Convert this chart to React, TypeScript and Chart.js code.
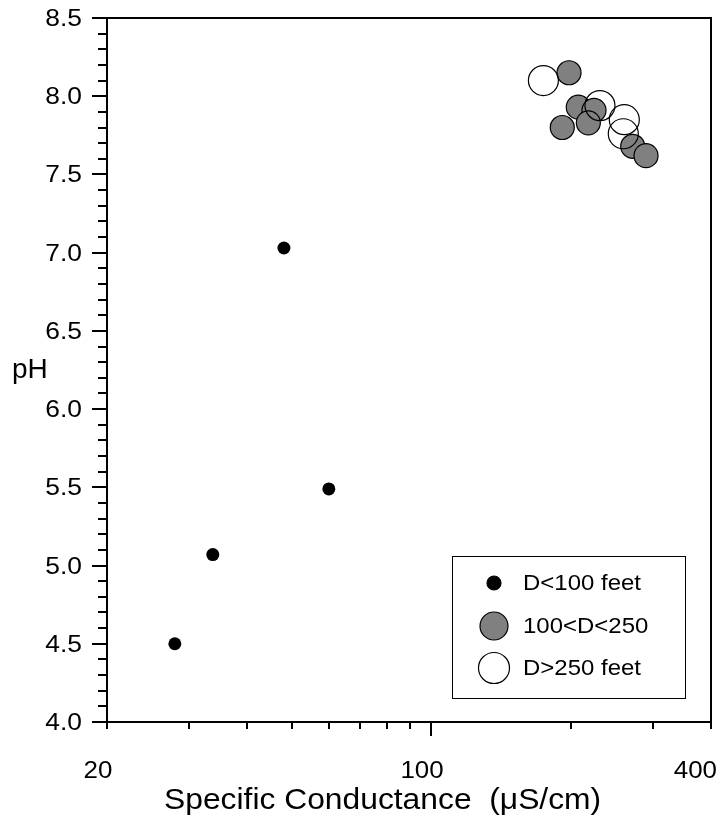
import React, { useEffect, useRef } from 'react';
import { Chart, registerables } from 'chart.js';

Chart.register(...registerables);

// ---- data ----
const seriesLabels = ['D<100 feet', '100<D<250', 'D>250 feet'];
const shallowSC = [28.0, 33.8, 48.1, 60.1];
const shallowPH = [4.5, 5.07, 7.03, 5.49];
const midSC = [197.8, 207.1, 223.9, 217.7, 191.3, 271.3, 289.8];
const midPH = [8.15, 7.93, 7.91, 7.83, 7.8, 7.68, 7.62];
const deepSC = [174.2, 230.6, 260.2, 258.9];
const deepPH = [8.1, 7.94, 7.85, 7.76];

const xMin = 20;
const xMax = 400;
const xTickValues = [20, 30, 40, 50, 60, 70, 80, 90, 100, 200, 300, 400];
const xTickLabels = ['20', '', '', '', '', '', '', '', '100', '', '', '400'];
const xMajorValues = [100];
const yMin = 4;
const yMax = 8.5;
const yMajorStep = 0.5;
const yMinorStep = 0.1;
const xTitle = 'Specific Conductance  (\u03bcS/cm)';
const yTitle = 'pH';

const FONT = '"Liberation Sans", Arial, Helvetica, sans-serif';

const toPoints = (xs: number[], ys: number[]) => xs.map((x, i) => ({ x, y: ys[i] }));

const seriesStyles = [
  { fill: '#000000', stroke: '#000000', radius: 6.5, legendRadius: 7 },
  { fill: '#808080', stroke: '#000000', radius: 12, legendRadius: 14 },
  { fill: 'rgba(255,255,255,0)', stroke: '#000000', radius: 15, legendRadius: 15.5 },
];

function stretchText(ctx: CanvasRenderingContext2D, text: string, x: number, y: number, sx: number) {
  ctx.save();
  ctx.translate(x, y);
  ctx.scale(sx, 1);
  ctx.fillText(text, 0, 0);
  ctx.restore();
}

const framePlugin = {
  id: 'frameAxes',
  beforeDatasetsDraw(chart: any) {
    const { ctx, chartArea: a, scales } = chart;
    const xs = scales.x;
    const ys = scales.y;
    ctx.save();
    ctx.strokeStyle = '#000';
    ctx.fillStyle = '#000';
    ctx.lineWidth = 2;
    ctx.strokeRect(a.left, a.top, a.right - a.left, a.bottom - a.top);

    // y ticks
    ctx.font = `24px ${FONT}`;
    ctx.textAlign = 'right';
    ctx.textBaseline = 'middle';
    const n = Math.round((yMax - yMin) / yMinorStep);
    for (let i = 0; i <= n; i++) {
      const v = yMin + i * yMinorStep;
      const r = v / yMajorStep;
      const major = Math.abs(r - Math.round(r)) < 1e-6;
      const py = Math.round(ys.getPixelForValue(v));
      ctx.beginPath();
      ctx.moveTo(a.left - (major ? 15 : 9), py);
      ctx.lineTo(a.left, py);
      ctx.stroke();
      if (major) stretchText(ctx, v.toFixed(1), a.left - 25, py + 1, 1.1);
    }

    // x ticks
    ctx.textAlign = 'center';
    ctx.textBaseline = 'top';
    const W = chart.width;
    xTickValues.forEach((v, i) => {
      const px = Math.round(xs.getPixelForValue(v));
      const len = xMajorValues.includes(v) ? 14 : 7;
      ctx.beginPath();
      ctx.moveTo(px, a.bottom);
      ctx.lineTo(px, a.bottom + len);
      ctx.stroke();
      const lab = xTickLabels[i];
      if (lab) {
        const w = ctx.measureText(lab).width * 1.08;
        const cx = Math.min(px - 9, W - w / 2 - 4);
        stretchText(ctx, lab, cx, a.bottom + 37, 1.08);
      }
    });

    // titles
    ctx.font = `30px ${FONT}`;
    ctx.textAlign = 'left';
    ctx.textBaseline = 'alphabetic';
    stretchText(ctx, xTitle, 164, a.bottom + 87, 1.06);
    ctx.font = `28px ${FONT}`;
    ctx.textAlign = 'left';
    ctx.textBaseline = 'middle';
    ctx.fillText(yTitle, 12, (a.top + a.bottom) / 2);
    ctx.restore();
  },
  afterDraw(chart: any) {
    const { ctx, chartArea: a } = chart;
    const left = a.right - 259;
    const top = a.bottom - 166;
    const right = a.right - 26;
    const bottom = a.bottom - 24;
    ctx.save();
    ctx.fillStyle = '#fff';
    ctx.fillRect(left, top, right - left, bottom - top);
    ctx.strokeStyle = '#000';
    ctx.lineWidth = 1;
    ctx.strokeRect(left + 0.5, top + 0.5, right - left, bottom - top);
    ctx.font = `22px ${FONT}`;
    ctx.textAlign = 'left';
    ctx.textBaseline = 'middle';
    const rows = [27, 70, 112];
    seriesLabels.forEach((lab, i) => {
      const st = seriesStyles[i];
      const cy = top + rows[i];
      ctx.beginPath();
      ctx.arc(left + 42, cy, st.legendRadius, 0, Math.PI * 2);
      ctx.fillStyle = st.fill;
      ctx.fill();
      ctx.lineWidth = 1.2;
      ctx.strokeStyle = st.stroke;
      ctx.stroke();
      ctx.fillStyle = '#000';
      stretchText(ctx, lab, left + 71, cy + 1, 1.09);
    });
    ctx.restore();
  },
};

export default function App() {
  const ref = useRef<HTMLCanvasElement | null>(null);
  useEffect(() => {
    if (!ref.current) return;
    const chart = new Chart(ref.current, {
      type: 'scatter',
      data: {
        datasets: [
          {
            label: seriesLabels[2],
            data: toPoints(deepSC, deepPH),
            backgroundColor: seriesStyles[2].fill,
            borderColor: seriesStyles[2].stroke,
            borderWidth: 1.2,
            pointRadius: seriesStyles[2].radius,
            pointHoverRadius: seriesStyles[2].radius,
            order: 0,
          },
          {
            label: seriesLabels[1],
            data: toPoints(midSC, midPH),
            backgroundColor: seriesStyles[1].fill,
            borderColor: seriesStyles[1].stroke,
            borderWidth: 1.2,
            pointRadius: seriesStyles[1].radius,
            pointHoverRadius: seriesStyles[1].radius,
            order: 1,
          },
          {
            label: seriesLabels[0],
            data: toPoints(shallowSC, shallowPH),
            backgroundColor: seriesStyles[0].fill,
            borderColor: seriesStyles[0].stroke,
            borderWidth: 0,
            pointRadius: seriesStyles[0].radius,
            pointHoverRadius: seriesStyles[0].radius,
            order: 2,
          },
        ],
      },
      plugins: [framePlugin],
      options: {
        animation: false,
        responsive: false,
        devicePixelRatio: 1,
        layout: { autoPadding: false, padding: { top: 18, right: 10, left: 0, bottom: 0 } },
        plugins: { legend: { display: false }, tooltip: { enabled: false } },
        events: [],
        scales: {
          x: {
            type: 'logarithmic',
            min: xMin,
            max: xMax,
            grid: { display: false },
            border: { display: false },
            ticks: { display: false },
            afterFit: (s: any) => { s.height = 96; },
          },
          y: {
            type: 'linear',
            min: yMin,
            max: yMax,
            grid: { display: false },
            border: { display: false },
            ticks: { display: false },
            afterFit: (s: any) => { s.width = 107; },
          },
        },
      },
    });
    return () => chart.destroy();
  }, []);
  return (
    <div style={{ position: 'absolute', left: 0, top: 0, width: 721, height: 818, background: '#fff' }}>
      <canvas ref={ref} width={721} height={818} style={{ display: 'block' }} />
    </div>
  );
}
